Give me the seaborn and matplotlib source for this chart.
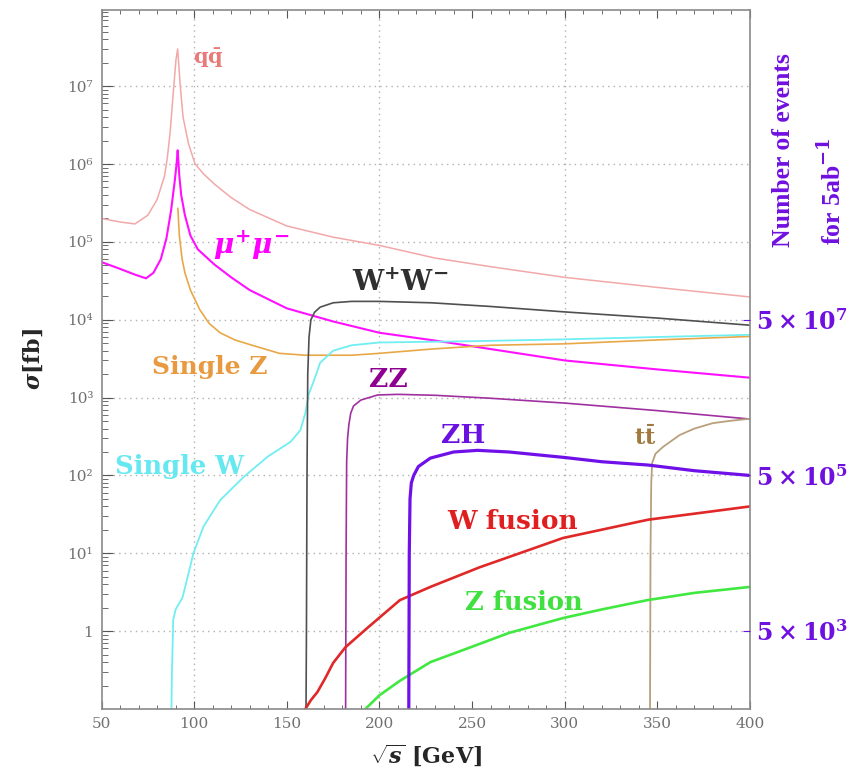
import numpy as np
import pandas as pd
import matplotlib
matplotlib.use("Agg")
import matplotlib.pyplot as plt
import seaborn as sns
from matplotlib.ticker import FixedLocator, FixedFormatter, MultipleLocator, LogLocator, NullFormatter, NullLocator

# ---------------- data ----------------
qq_x = [50, 60, 68, 75, 80, 84, 85.5, 87, 89, 90.2, 91.1, 92.5, 94, 97, 100.5, 105, 111, 120, 130, 150, 175, 200, 230, 260, 300, 350, 400]
qq_y = [2.0e5, 1.8e5, 1.7e5, 2.2e5, 3.5e5, 7e5, 1.2e6, 2.5e6, 1.0e7, 2.2e7, 3.0e7, 1.0e7, 4e6, 1.8e6, 1.0e6, 7.5e5, 5.5e5, 3.7e5, 2.6e5, 1.6e5, 1.15e5, 9.0e4, 6.2e4, 4.8e4, 3.5e4, 2.6e4, 1.96e4]

mumu_x = [50, 60, 68, 74, 78, 82, 85, 87.5, 89.5, 90.5, 91.1, 92, 93, 95, 98, 102, 111, 120, 130, 150, 175, 200, 230, 260, 300, 350, 400]
mumu_y = [5.5e4, 4.5e4, 3.8e4, 3.4e4, 4.0e4, 6e4, 1.1e5, 2.5e5, 6e5, 1.0e6, 1.5e6, 7e5, 4e5, 2.2e5, 1.2e5, 8e4, 5.1e4, 3.5e4, 2.4e4, 1.4e4, 9.5e3, 6.8e3, 5.4e3, 4.2e3, 3.0e3, 2.3e3, 1.8e3]

singleZ_x = [91.2, 92, 93.5, 95, 98, 103, 108, 114, 122, 130, 146, 160, 185, 200, 228, 260, 300, 350, 400]
singleZ_y = [2.7e5, 1.2e5, 6e4, 4e4, 2.4e4, 1.35e4, 9e3, 6.8e3, 5.5e3, 4.8e3, 3.7e3, 3.5e3, 3.5e3, 3.7e3, 4.2e3, 4.7e3, 4.9e3, 5.5e3, 6.1e3]

singleW_x = [87.6, 88.0, 88.7, 90, 93.7, 96.5, 99.6, 105, 114, 126.6, 139.5, 152, 157.3, 160, 161.8, 164, 168, 175, 185, 200, 250, 300, 350, 400]
singleW_y = [0.05, 0.3, 1.4, 1.9, 2.7, 5, 10, 22, 48, 95, 173, 270, 380, 630, 1.1e3, 1.5e3, 2.8e3, 4.0e3, 4.7e3, 5.1e3, 5.3e3, 5.6e3, 6.0e3, 6.4e3]

WW_x = [160.3, 160.6, 160.9, 161.3, 162, 163, 165, 168, 175, 185, 200, 228, 260, 300, 350, 400]
WW_y = [0.05, 1, 100, 2e3, 6e3, 1.0e4, 1.25e4, 1.45e4, 1.65e4, 1.72e4, 1.72e4, 1.65e4, 1.48e4, 1.26e4, 1.05e4, 8.5e3]

ZZ_x = [181.7, 182.0, 182.3, 182.8, 183.5, 184.5, 186, 190, 199, 210, 230, 260, 300, 350, 400]
ZZ_y = [0.05, 10, 150, 300, 450, 630, 780, 930, 1.08e3, 1.1e3, 1.07e3, 980, 850, 680, 530]

ZH_x = [215.8, 216.1, 216.5, 217.2, 218.5, 221, 227.5, 240, 253, 270, 300, 320, 345, 370, 400]
ZH_y = [0.05, 10, 50, 80, 100, 130, 167, 200, 210, 200, 170, 150, 136, 115, 100]

Wfus_x = [160, 163, 166.5, 170.8, 175, 181.6, 193.5, 211, 227.5, 254, 299, 345, 400]
Wfus_y = [0.1, 0.13, 0.165, 0.25, 0.39, 0.62, 1.1, 2.5, 3.7, 6.6, 15.7, 27, 40]

Zfus_x = [192.4, 200, 211, 227.5, 245, 270, 299, 320, 344.5, 370, 400]
Zfus_y = [0.1, 0.15, 0.23, 0.4, 0.57, 0.95, 1.47, 1.9, 2.5, 3.1, 3.7]

tt_x = [346.0, 346.3, 346.7, 347.2, 349, 353, 362, 370, 380, 390, 400]
tt_y = [0.05, 10, 80, 145, 190, 232, 330, 400, 470, 505, 535]

x_ticks = [50, 100, 150, 200, 250, 300, 350, 400]
y_ticks = [1, 1e1, 1e2, 1e3, 1e4, 1e5, 1e6, 1e7]
y_tick_labels = ["1", "10¹", "10²", "10³", "10⁴", "10⁵", "10⁶", "10⁷"]
event_ticks = [5e3, 5e5, 5e7]
event_tick_labels = [r"$5\times10^{3}$", r"$5\times10^{5}$", r"$5\times10^{7}$"]
lumi_fb = 5000.0
x_grid = [100, 200, 300]

labels = [
    (r"$\mathrm{q\bar{q}}$", 107.6, 2.3e7, "#e87a7a", 15),
    (r"$\mu^{+}\mu^{-}$", 131, 9.0e4, "#ff00ff", 20),
    (r"$\mathrm{W^{+}W^{-}}$", 211.4, 2.9e4, "#303030", 20),
    ("Single Z", 108.2, 2.45e3, "#e89a40", 18),
    ("ZZ", 205, 1.7e3, "#900090", 19),
    ("Single W", 92, 132, "#66e8f0", 18.5),
    ("ZH", 245, 330, "#6a10e0", 19),
    (r"$\mathrm{t\bar{t}}$", 343.4, 310, "#a07840", 16),
    ("W fusion", 272, 25.5, "#e02020", 19),
    ("Z fusion", 278, 2.35, "#40e040", 18.5),
]

# ---------------- style ----------------
sns.set_style("ticks")
plt.rcParams['font.family'] = ['DejaVu Serif']
plt.rcParams['mathtext.fontset'] = 'custom'
plt.rcParams['mathtext.rm'] = 'DejaVu Serif:bold'
plt.rcParams['mathtext.it'] = 'DejaVu Serif:italic:bold'
plt.rcParams['mathtext.bf'] = 'DejaVu Serif:bold'

fig = plt.figure(figsize=(8.59, 7.72), dpi=100)
ax = fig.add_axes([0.1182, 0.0816, 0.7549, 0.9054])

series = [
    ("qq", qq_x, qq_y, "#f2a8a8", 1.1),
    ("mumu", mumu_x, mumu_y, "#ff10ff", 1.5),
    ("singleZ", singleZ_x, singleZ_y, "#e8a848", 1.2),
    ("singleW", singleW_x, singleW_y, "#70eef2", 1.3),
    ("WW", WW_x, WW_y, "#505050", 1.2),
    ("ZZ", ZZ_x, ZZ_y, "#a030a0", 1.2),
    ("tt", tt_x, tt_y, "#b8a07c", 1.3),
    ("Wfus", Wfus_x, Wfus_y, "#e02828", 1.9),
    ("Zfus", Zfus_x, Zfus_y, "#40e840", 1.9),
    ("ZH", ZH_x, ZH_y, "#7010e8", 2.3),
]
for name, xs, ys, col, lw in series:
    df = pd.DataFrame({"sqrt_s": xs, "sigma": ys})
    sns.lineplot(data=df, x="sqrt_s", y="sigma", color=col, linewidth=lw,
                 ax=ax, estimator=None, sort=False, legend=False)

ax.set_yscale("log")
ax.set_xlim(50, 400)
ax.set_ylim(0.1, 9.5e7)

# grid
for gx in x_grid:
    ax.axvline(gx, color="#b0b0b0", linestyle=(0, (1, 3)), linewidth=1.0, zorder=0)
ax.yaxis.set_major_locator(FixedLocator(y_ticks))
ax.yaxis.set_major_formatter(FixedFormatter(y_tick_labels))
ax.yaxis.set_minor_locator(LogLocator(base=10, subs=np.arange(2, 10), numticks=20))
ax.yaxis.set_minor_formatter(NullFormatter())
ax.yaxis.grid(True, which="major", color="#b0b0b0", linestyle=(0, (1, 3)), linewidth=1.0)
ax.xaxis.grid(False)

ax.xaxis.set_major_locator(FixedLocator(x_ticks))
ax.xaxis.set_minor_locator(MultipleLocator(10))
ax.tick_params(axis="x", which="both", direction="in", top=True, bottom=True,
               labelsize=11, labelcolor="#707070", color="#555555", pad=6)
ax.tick_params(axis="x", which="major", length=6)
ax.tick_params(axis="x", which="minor", length=3)
ax.tick_params(axis="y", which="both", direction="in", left=True, right=False,
               labelsize=11, labelcolor="#707070", color="#555555", pad=6)
ax.tick_params(axis="y", which="major", length=8)
ax.tick_params(axis="y", which="minor", length=4)

for sp in ax.spines.values():
    sp.set_visible(True)
    sp.set_color("#8a8a8a")
    sp.set_linewidth(1.2)

ax.set_xlabel(r"$\sqrt{s}$ [GeV]", fontsize=16, fontweight="bold", labelpad=8)
ax.set_ylabel(r"$\sigma$[fb]", fontsize=16, fontweight="bold", labelpad=16)

# right axis: number of events
ax2 = ax.twinx()
ax2.set_yscale("log")
ax2.set_ylim(0.1 * lumi_fb, 9.5e7 * lumi_fb)
ax2.yaxis.set_major_locator(FixedLocator(event_ticks))
ax2.yaxis.set_major_formatter(FixedFormatter(event_tick_labels))
ax2.yaxis.set_minor_locator(NullLocator())
ax2.tick_params(axis="y", which="major", direction="in", length=5, color="#7010e0",
                labelsize=17, labelcolor="#7010e0", pad=4)
for sp in ax2.spines.values():
    sp.set_visible(False)

fig.text(784 / 859, 1 - 247 / 772, "Number of events", rotation=90, ha="center", va="bottom",
         fontsize=18.5, fontweight="bold", color="#7010e0", family="Liberation Serif")
fig.text(832 / 859, 1 - 245 / 772, "for 5ab$^{-1}$", rotation=90, ha="center", va="bottom",
         fontsize=18.5, fontweight="bold", color="#7010e0", family="Liberation Serif")

for txt, lx, ly, col, fs in labels:
    ax.text(lx, ly, txt, color=col, fontsize=fs, fontweight="bold", ha="center", va="center")

fig.savefig("out.png", dpi=100)
